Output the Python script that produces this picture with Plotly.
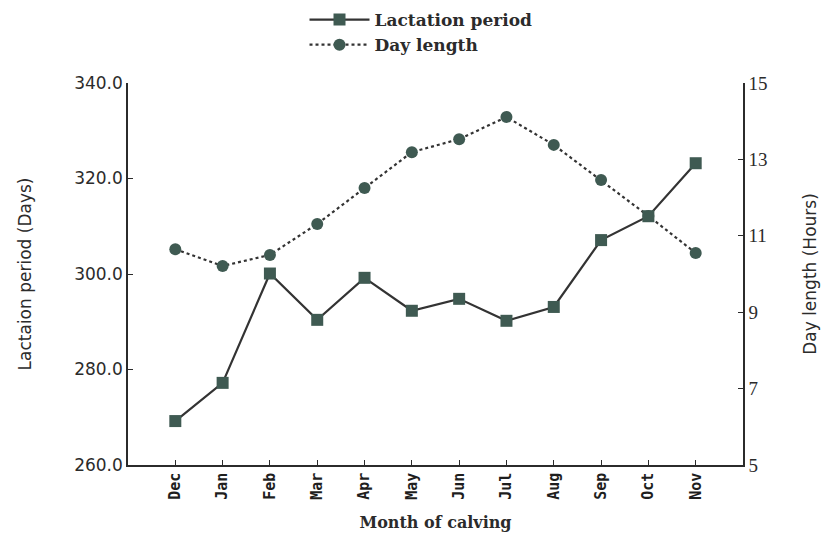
import plotly.graph_objects as go

# Month of calving (Dec through Nov)
months = ["Dec", "Jan", "Feb", "Mar", "Apr", "May", "Jun", "Jul", "Aug", "Sep", "Oct", "Nov"]

# Mean lactation period (days) per calving month
lactation_days = [269.2, 277.2, 300.1, 290.4, 299.2, 292.3, 294.8, 290.2, 293.1, 307.1, 312.1, 323.2]

# Day length (hours) per month
day_length_hours = [10.65, 10.21, 10.50, 11.31, 12.25, 13.19, 13.53, 14.11, 13.38, 12.46, 11.52, 10.55]

# Axis ticks
lact_ticks = [260, 280, 300, 320, 340]
day_ticks = [5, 7, 9, 11, 13, 15]

ink = "#2b2b2b"
marker_col = "#3f5a52"

fig = go.Figure()

fig.add_trace(go.Scatter(
    x=months, y=lactation_days, name="Lactation period", yaxis="y2",
    mode="lines+markers",
    line=dict(color="#333333", width=2.2),
    marker=dict(symbol="square", size=12, color=marker_col),
))

fig.add_trace(go.Scatter(
    x=months, y=day_length_hours, name="Day length", yaxis="y",
    mode="lines+markers",
    line=dict(color="#333333", width=2.2, dash="dot"),
    marker=dict(symbol="circle", size=12, color=marker_col),
))

fig.update_layout(
    width=825, height=537,
    margin=dict(l=128, r=82, t=83, b=72, autoexpand=False),
    paper_bgcolor="white", plot_bgcolor="white",
    showlegend=True,
    legend=dict(
        x=0.287, y=1.212, xanchor="left", yanchor="top",
        xref="paper", yref="paper",
        font=dict(family="DejaVu Serif", size=17, color=ink, weight="bold"),
        itemwidth=60, tracegroupgap=0,
        bgcolor="rgba(0,0,0,0)",
    ),
    xaxis=dict(
        type="category", range=[-1, 12],
        showline=True, linecolor=ink, linewidth=1.5,
        ticks="inside", ticklen=5, tickcolor=ink,
        tickangle=-90, showgrid=False, zeroline=False,
        tickfont=dict(family="DejaVu Sans Mono", size=15, color="#1e1e1e", weight="bold"),
        title=dict(text="Month of calving",
                   font=dict(family="DejaVu Serif", size=16, color=ink, weight="bold"),
                   standoff=18),
    ),
    yaxis=dict(
        side="right", range=[5, 15], tickvals=day_ticks,
        showline=True, linecolor=ink, linewidth=1.5,
        ticks="inside", ticklen=5, tickcolor=ink,
        showgrid=False, zeroline=False,
        tickfont=dict(family="Liberation Serif", size=19, color=ink),
        title=dict(text="Day length (Hours)",
                   font=dict(family="DejaVu Sans", size=17, color=ink),
                   standoff=38),
    ),
    yaxis2=dict(
        side="left", overlaying="y", range=[260, 340], tickvals=lact_ticks,
        tickformat=".1f",
        showline=True, linecolor=ink, linewidth=1.5,
        ticks="inside", ticklen=5, tickcolor=ink,
        showgrid=False, zeroline=False,
        tickfont=dict(family="DejaVu Sans", size=17, color=ink),
        title=dict(text="Lactaion period (Days)",
                   font=dict(family="DejaVu Sans", size=17, color=ink),
                   standoff=38),
    ),
)

fig.write_html("out.html")
